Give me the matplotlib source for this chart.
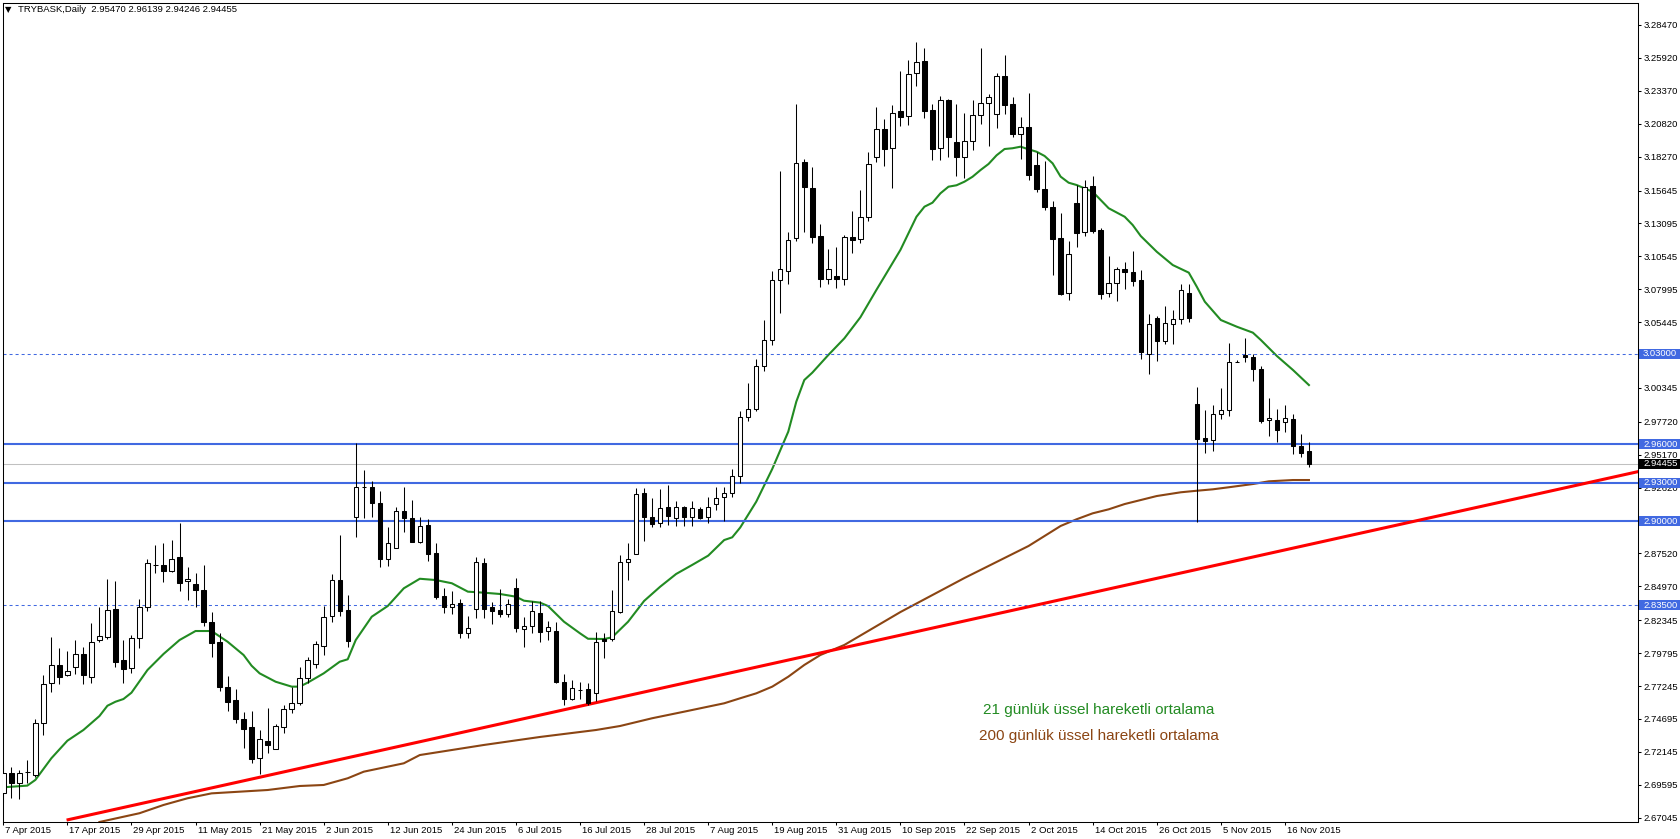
import matplotlib
matplotlib.use("Agg")
import matplotlib.pyplot as plt
import numpy as np
from matplotlib.transforms import ScaledTranslation, blended_transform_factory
from matplotlib.patches import Rectangle

# ---------------- data ----------------
opens = [2.6893, 2.7053, 2.6976, 2.7058, 2.7033, 2.7436, 2.7746, 2.7885, 2.7808, 2.7870,
         2.7971, 2.7797, 2.8079, 2.8107, 2.8322, 2.7924, 2.7862, 2.8095, 2.8335, 2.8660,
         2.8660, 2.8618, 2.8722, 2.8536, 2.8515, 2.8469, 2.8223, 2.8066, 2.7720, 2.7614,
         2.7469, 2.7405, 2.7165, 2.7296, 2.7239, 2.7410, 2.7544, 2.7591, 2.7785, 2.7893,
         2.8037, 2.8265, 2.8544, 2.8314, 2.9032, 2.9265, 2.9265, 2.9141, 2.8707, 2.8797,
         2.9081, 2.9025, 2.8843, 2.8970, 2.8753, 2.8420, 2.8337, 2.8366, 2.8133, 2.8319,
         2.8676, 2.8337, 2.8312, 2.8281, 2.8482, 2.8169, 2.8188, 2.8288, 2.8149, 2.8149,
         2.7758, 2.7622, 2.7694, 2.7699, 2.7671, 2.8087, 2.8087, 2.8296, 2.8684, 2.8746,
         2.9218, 2.9032, 2.8986, 2.9110, 2.9025, 2.9110, 2.9032, 2.9094, 2.9032, 2.9133,
         2.9187, 2.9218, 2.9350, 2.9807, 2.9874, 3.0205, 3.0404, 3.0869, 3.0938, 3.1194,
         3.1783, 3.1584, 3.1212, 3.0881, 3.0902, 3.0881, 3.1204, 3.1186, 3.1357, 3.1822,
         3.2039, 3.1892, 3.2178, 3.2139, 3.2473, 3.2566, 3.2186, 3.1892, 3.2263, 3.1938,
         3.1822, 3.1946, 3.2147, 3.2240, 3.2155, 3.2449, 3.2232, 3.2005, 3.2054, 3.1760,
         3.1578, 3.1434, 3.1194, 3.0768, 3.1465, 3.1241, 3.1599, 3.1256, 3.0768, 3.0845,
         3.0956, 3.0931, 3.0871, 3.0295, 3.0574, 3.0401, 3.0528, 3.0571, 3.0768, 2.9910,
         2.9647, 2.9629, 2.9830, 2.9861, 3.0235, 3.0290, 3.0272, 3.0179, 2.9784, 2.9786,
         2.9771, 2.9792, 2.9585, 2.95470]
highs = [2.7121, 2.7100, 2.7074, 2.7152, 2.7467, 2.7810, 2.8107, 2.8019, 2.7994, 2.8081,
         2.8030, 2.8211, 2.8339, 2.8554, 2.8539, 2.8081, 2.8120, 2.8397, 2.8707, 2.8818,
         2.8831, 2.8856, 2.8990, 2.8649, 2.8598, 2.8663, 2.8301, 2.8133, 2.7802, 2.7699,
         2.7524, 2.7529, 2.7384, 2.7552, 2.7431, 2.7578, 2.7720, 2.7870, 2.7952, 2.8074,
         2.8345, 2.8593, 2.8895, 2.8430, 2.9606, 2.9399, 2.9311, 2.9236, 2.8957, 2.9110,
         2.9265, 2.9166, 2.9037, 2.9017, 2.8831, 2.8482, 2.8461, 2.8397, 2.8267, 2.8722,
         2.8715, 2.8376, 2.8474, 2.8399, 2.8560, 2.8262, 2.8382, 2.8382, 2.8229, 2.8219,
         2.7816, 2.7771, 2.7754, 2.7746, 2.8141, 2.8138, 2.8469, 2.8740, 2.8831, 2.9257,
         2.9257, 2.9184, 2.9249, 2.9280, 2.9156, 2.9120, 2.9159, 2.9110, 2.9187, 2.9265,
         2.9265, 2.9404, 2.9858, 3.0070, 3.0256, 3.0561, 3.0941, 3.1718, 3.1243, 3.2235,
         3.1809, 3.1747, 3.1305, 3.1111, 3.1127, 3.1222, 3.1406, 3.1568, 3.1865, 3.2214,
         3.2119, 3.2225, 3.2488, 3.2573, 3.2713, 3.2666, 3.2233, 3.2297, 3.2273, 3.2233,
         3.2163, 3.2263, 3.2666, 3.2310, 3.2473, 3.2612, 3.2287, 3.2132, 3.2318, 3.1865,
         3.1791, 3.1481, 3.1390, 3.1173, 3.1607, 3.1646, 3.1677, 3.1272, 3.1057, 3.0969,
         3.1010, 3.1096, 3.0948, 3.0608, 3.0592, 3.0670, 3.0639, 3.0840, 3.0840, 3.0042,
         2.9864, 2.9900, 3.0034, 3.0383, 3.0249, 3.0419, 3.0295, 3.0207, 2.9954, 2.9871,
         2.9900, 2.9835, 2.9678, 2.96139]
lows = [2.6828, 2.6859, 2.6847, 2.6976, 2.7022, 2.7345, 2.7681, 2.7740, 2.7802, 2.7818,
        2.7738, 2.7751, 2.8068, 2.8087, 2.7875, 2.7751, 2.7823, 2.8022, 2.8309, 2.8598,
        2.8533, 2.8611, 2.8463, 2.8391, 2.8335, 2.8190, 2.7952, 2.7689, 2.7534, 2.7441,
        2.7242, 2.7126, 2.7043, 2.7208, 2.7234, 2.7358, 2.7518, 2.7580, 2.7746, 2.7862,
        2.7963, 2.8223, 2.8267, 2.8030, 2.8877, 2.9027, 2.9037, 2.8645, 2.8657, 2.8792,
        2.8921, 2.8841, 2.8833, 2.8696, 2.8397, 2.8293, 2.8281, 2.8099, 2.8099, 2.8254,
        2.8250, 2.8203, 2.8262, 2.8262, 2.8141, 2.8030, 2.8133, 2.8064, 2.8081, 2.7751,
        2.7580, 2.7620, 2.7624, 2.7575, 2.7609, 2.7940, 2.8076, 2.8294, 2.8546, 2.8744,
        2.8851, 2.8955, 2.8955, 2.8973, 2.8967, 2.8967, 2.8967, 2.9019, 2.8990, 2.9089,
        2.9006, 2.9192, 2.9300, 2.9781, 2.9858, 3.0168, 3.0367, 3.0618, 3.0841, 3.1176,
        3.1245, 3.1160, 3.0819, 3.0841, 3.0811, 3.0835, 3.1083, 3.1160, 3.1331, 3.1788,
        3.1754, 3.1586, 3.2067, 3.2069, 3.2377, 3.2129, 3.1803, 3.1803, 3.1826, 3.1679,
        3.1664, 3.1878, 3.2082, 3.1912, 3.2051, 3.2160, 3.1981, 3.1811, 3.1648, 3.1555,
        3.1416, 3.0912, 3.0757, 3.0718, 3.1129, 3.1214, 3.1238, 3.0726, 3.0742, 3.0711,
        3.0804, 3.0824, 3.0261, 3.0143, 3.0246, 3.0377, 3.0377, 3.0528, 3.0546, 2.8993,
        2.9533, 2.9548, 2.9792, 2.9819, 3.0233, 3.0233, 3.0086, 2.9761, 2.9664, 2.9618,
        2.9695, 2.9525, 2.9502, 2.94246]
closes = [2.7053, 2.6976, 2.7053, 2.7060, 2.7436, 2.7738, 2.7885, 2.7792, 2.7839, 2.7971,
          2.7808, 2.8068, 2.8110, 2.8312, 2.7913, 2.7859, 2.8095, 2.8335, 2.8676, 2.8662,
          2.8618, 2.8707, 2.8525, 2.8552, 2.8469, 2.8223, 2.8061, 2.7715, 2.7603, 2.7472,
          2.7394, 2.7162, 2.7312, 2.7270, 2.7413, 2.7544, 2.7591, 2.7785, 2.7924, 2.8048,
          2.8257, 2.8544, 2.8309, 2.8076, 2.9265, 2.9267, 2.9141, 2.8707, 2.8831, 2.9083,
          2.9023, 2.8843, 2.8963, 2.8746, 2.8417, 2.8335, 2.8363, 2.8133, 2.8177, 2.8684,
          2.8319, 2.8309, 2.8281, 2.8358, 2.8172, 2.8188, 2.8304, 2.8146, 2.8185, 2.7756,
          2.7622, 2.7707, 2.7696, 2.7596, 2.8068, 2.8071, 2.8304, 2.8684, 2.8707, 2.9210,
          2.9032, 2.8980, 2.9102, 2.9045, 2.9110, 2.9037, 2.9102, 2.9025, 2.9110, 2.9182,
          2.9218, 2.9350, 2.9807, 2.9869, 3.0205, 3.0404, 3.0869, 3.0954, 3.1179, 3.1775,
          3.1594, 3.1207, 3.0881, 3.0954, 3.0881, 3.1204, 3.1183, 3.1359, 3.1768, 3.2039,
          3.1888, 3.2163, 3.2136, 3.2465, 3.2558, 3.2183, 3.1888, 3.2263, 3.1981, 3.1822,
          3.1946, 3.2147, 3.2240, 3.2287, 3.2449, 3.2229, 3.2005, 3.2054, 3.1687, 3.1578,
          3.1434, 3.1191, 3.0765, 3.1070, 3.1238, 3.1594, 3.1253, 3.0765, 3.0845, 3.0956,
          3.0931, 3.0866, 3.0311, 3.0528, 3.0401, 3.0535, 3.0569, 3.0791, 3.0579, 2.9641,
          2.9626, 2.9830, 2.9861, 3.0233, 3.0236, 3.0277, 3.0184, 2.9781, 2.9799, 2.9706,
          2.9799, 2.9582, 2.9533, 2.94455]

# 21-period EMA (green), read at bar indices
ema21_idx = [0, 3, 4, 6, 8, 10, 12, 13, 14, 15, 16, 18, 20, 22, 24, 26, 28, 30, 31, 32,
             34, 36, 37, 38, 40, 42, 43, 44, 46, 48, 50, 52, 54, 56, 58, 60, 62, 64, 65, 67,
             68, 70, 72, 73, 75, 76, 78, 80, 82, 84, 86, 88, 90, 91, 92, 94, 96, 98, 99, 100,
             101, 103, 105, 107, 109, 110, 112, 114, 115, 116, 117, 118, 119, 120, 121, 122, 123, 124,
             125, 126, 127, 128, 129, 130, 131, 132, 133, 134, 136, 138, 140, 141, 142, 144, 146, 148,
             149, 150, 152, 154, 156, 157, 159, 161, 163]
ema21_val = [2.6940, 2.6953, 2.6997, 2.7165, 2.7301, 2.7384, 2.7492, 2.7572, 2.7603, 2.7624,
             2.7673, 2.7849, 2.7973, 2.8081, 2.8151, 2.8151, 2.8068, 2.7965, 2.7882, 2.7823,
             2.7758, 2.7720, 2.7720, 2.7751, 2.7823, 2.7913, 2.7932, 2.8081, 2.8262, 2.8345,
             2.8482, 2.8556, 2.8546, 2.8521, 2.8456, 2.8448, 2.8438, 2.8417, 2.8386, 2.8371,
             2.8345, 2.8223, 2.8133, 2.8091, 2.8089, 2.8102, 2.8223, 2.8384, 2.8494, 2.8593,
             2.8663, 2.8735, 2.8856, 2.8877, 2.8953, 2.9153, 2.9407, 2.9696, 2.9928, 3.0096,
             3.0153, 3.0290, 3.0419, 3.0582, 3.0794, 3.0897, 3.1104, 3.1361, 3.1439, 3.1470,
             3.1543, 3.1594, 3.1605, 3.1633, 3.1671, 3.1723, 3.1770, 3.1837,
             3.1886, 3.1892, 3.1904, 3.1884, 3.1865, 3.1832, 3.1775, 3.1672, 3.1625, 3.1607,
             3.1555, 3.1427, 3.1361, 3.1297, 3.1212, 3.1090, 3.0987, 3.0928,
             3.0819, 3.0703, 3.0561, 3.0509, 3.0463, 3.0406, 3.0282, 3.0174, 3.0057]

# 200-period EMA (brown), read at bar indices
ema200_idx = [12, 17, 20, 23, 26, 33, 37, 40, 43, 45, 50, 52, 60, 67, 74, 77, 81, 85, 90, 92,
              94, 96, 98, 100, 102, 105, 112, 120, 128, 132, 134, 136, 138, 140, 142, 144, 147, 149,
              151, 153, 156, 158, 161, 163]
ema200_val = [2.6671, 2.6739, 2.6803, 2.6855, 2.6893, 2.6919, 2.6950, 2.6958, 2.7010, 2.7061,
              2.7126, 2.7190, 2.7268, 2.7330, 2.7384, 2.7415, 2.7475, 2.7526, 2.7591, 2.7630,
              2.7668, 2.7720, 2.7797, 2.7888, 2.7965, 2.8043, 2.8298, 2.8562, 2.8810, 2.8965,
              2.9017, 2.9063, 2.9094, 2.9135, 2.9166, 2.9197, 2.9226, 2.9238, 2.9249, 2.9265,
              2.9290, 2.9311, 2.9321, 2.9321]

# red trend line anchor points (bar index, price)
trend_x = [7.9, 204.3]
trend_y = [2.6686, 2.9389]

# horizontal levels
solid_levels = [2.96000, 2.93000, 2.90000]
dashed_levels = [3.03000, 2.83500]
bid_level = 2.94455

xtick_pos = list(range(0, 161, 8))
xtick_labels = ["7 Apr 2015", "17 Apr 2015", "29 Apr 2015", "11 May 2015", "21 May 2015",
                "2 Jun 2015", "12 Jun 2015", "24 Jun 2015", "6 Jul 2015", "16 Jul 2015",
                "28 Jul 2015", "7 Aug 2015", "19 Aug 2015", "31 Aug 2015", "10 Sep 2015",
                "22 Sep 2015", "2 Oct 2015", "14 Oct 2015", "26 Oct 2015", "5 Nov 2015",
                "16 Nov 2015"]
ytick_vals = [3.28470, 3.25920, 3.23370, 3.20820, 3.18270, 3.15645, 3.13095, 3.10545,
              3.07995, 3.05445, 3.02895, 3.00345, 2.97720, 2.95170, 2.92620, 2.90070,
              2.87520, 2.84970, 2.82345, 2.79795, 2.77245, 2.74695, 2.72145, 2.69595, 2.67045]

header = "TRYBASK,Daily  2.95470 2.96139 2.94246 2.94455"
note_green = "21 günlük üssel hareketli ortalama"
note_brown = "200 günlük üssel hareketli ortalama"

# ---------------- styling ----------------
plt.rcParams['font.family'] = ['Liberation Sans', 'DejaVu Sans']
BLUE = '#4169E1'
GREEN = '#228B22'
BROWN = '#8B4513'
FS = 6.8

W, H = 1681, 839
fig = plt.figure(figsize=(W / 100, H / 100), dpi=100)
ax_l, ax_r, ax_t, ax_b = 2.7, 1638.0, 2.7, 821.7
ax = fig.add_axes([ax_l / W, 1 - ax_b / H, (ax_r - ax_l) / W, (ax_b - ax_t) / H])

o = np.array(opens); h = np.array(highs); lo = np.array(lows); c = np.array(closes)
x = np.arange(len(o))
up = c >= o

# indicator lines
ax.plot(ema21_idx, ema21_val, color=GREEN, lw=1.5, zorder=2)
ax.plot(ema200_idx, ema200_val, color=BROWN, lw=1.5, zorder=2)

for lv in solid_levels:
    ax.axhline(lv, color=BLUE, lw=1.5, zorder=2.2)
for lv in dashed_levels:
    ax.axhline(lv, color=BLUE, lw=0.75, ls=(0, (2.9, 2.9)), zorder=2.2)
ax.axhline(bid_level, color='#C0C0C0', lw=0.75, zorder=2.1)

ax.plot(trend_x, trend_y, color='#FF0000', lw=2.2, zorder=2.3, solid_capstyle='butt')

# candles
ax.vlines(x, lo, h, color='black', lw=0.75, zorder=3)
bb = np.minimum(o, c)
bh = np.maximum(np.abs(c - o), 0.0002)
bw = 0.55
ax.bar(x[up], bh[up], bottom=bb[up], width=bw, facecolor='white', edgecolor='black',
       linewidth=0.75, zorder=4)
ax.bar(x[~up], bh[~up], bottom=bb[~up], width=bw, facecolor='black', edgecolor='black',
       linewidth=0.75, zorder=4)

# axes limits
px_per_bar = 8.01
x0 = (ax_l - 3.3) / px_per_bar
x1 = (ax_r - 3.3) / px_per_bar
ax.set_xlim(x0, x1)
ax.set_ylim(2.66734, 3.30198)

for s in ax.spines.values():
    s.set_color('black')
    s.set_linewidth(0.75)

ax.yaxis.tick_right()
ax.set_yticks(ytick_vals)
ax.set_yticklabels([f"{v:.5f}" for v in ytick_vals])
ax.tick_params(axis='y', direction='out', length=2.2, width=0.75, pad=1.5,
               labelsize=FS, colors='black')
ax.set_xticks(xtick_pos)
ax.set_xticklabels(xtick_labels)
ax.tick_params(axis='x', direction='out', length=2.2, width=0.75, pad=1.2,
               labelsize=FS, colors='black')
shift = ScaledTranslation(2 / 100, 0, fig.dpi_scale_trans)
for lbl in ax.get_xticklabels():
    lbl.set_horizontalalignment('left')
    lbl.set_transform(lbl.get_transform() + shift)

# price boxes on the right scale
btr = blended_transform_factory(ax.transAxes, ax.transData)
axw = ax_r - ax_l
box_h = 10 * (3.30198 - 2.66734) / (ax_b - ax_t)
for lv, col in [(3.03000, BLUE), (2.96000, BLUE), (2.93000, BLUE), (2.90000, BLUE),
                (2.83500, BLUE), (bid_level, 'black')]:
    ax.add_patch(Rectangle((1.0 + 1.5 / axw, lv - box_h / 2), 43 / axw, box_h,
                           transform=btr, facecolor=col, edgecolor='none',
                           clip_on=False, zorder=6))
    ax.text(1.0 + 5 / axw, lv, f"{lv:.5f}", transform=btr, ha='left', va='center',
            color='white', fontsize=FS, clip_on=False, zorder=7)

# header
fig.text(5 / W, 1 - 10 / H, "\u25BC", fontsize=6, va='center', ha='left',
         family='DejaVu Sans')
fig.text(18 / W, 1 - 10 / H, header, fontsize=FS, va='center', ha='left')

# annotation texts
ax.text(136.8, 2.7539, note_green, color=GREEN, fontsize=11, ha='center', va='center')
ax.text(136.8, 2.7334, note_brown, color=BROWN, fontsize=11, ha='center', va='center')

fig.savefig("out.png", dpi=100, facecolor='white')
